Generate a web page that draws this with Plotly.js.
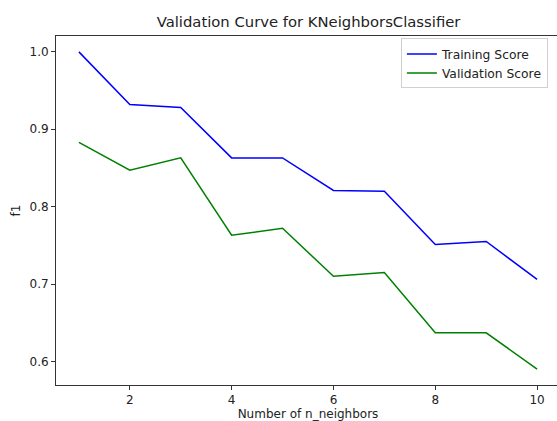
<!DOCTYPE html>
<html>
<head>
<meta charset="utf-8">
<script src="https://cdn.plot.ly/plotly-3.0.1.min.js"></script>
<style>
html,body{margin:0;padding:0;overflow:hidden;background:#fff;}
#chart{width:561px;height:421px;}
</style>
</head>
<body>
<div id="chart"></div>
<script>
const neighbors = [1, 2, 3, 4, 5, 6, 7, 8, 9, 10];
const trainingScore = [1.000, 0.932, 0.928, 0.863, 0.863, 0.821, 0.820, 0.751, 0.755, 0.706];
const validationScore = [0.883, 0.847, 0.863, 0.763, 0.772, 0.710, 0.715, 0.637, 0.637, 0.590];
const xTicks = [2, 4, 6, 8, 10];
const yTicks = [0.6, 0.7, 0.8, 0.9, 1.0];
const yTickLabels = ['0.6', '0.7', '0.8', '0.9', '1.0'];

const font = 'DejaVu Sans, sans-serif';
const traces = [
  {x: neighbors, y: trainingScore, type: 'scatter', mode: 'lines', name: 'Training Score',
   line: {color: '#0000ff', width: 1.5}},
  {x: neighbors, y: validationScore, type: 'scatter', mode: 'lines', name: 'Validation Score',
   line: {color: '#008000', width: 1.5}}
];
const layout = {
  width: 561, height: 421,
  margin: {l: 56, r: 1, t: 36, b: 36},
  paper_bgcolor: '#fff', plot_bgcolor: '#fff',
  font: {family: font, color: '#222', size: 12},
  title: {text: 'Validation Curve for KNeighborsClassifier', font: {family: font, size: 14.8, color: '#222'},
          x: 0.55, xanchor: 'center', y: 0.948, yanchor: 'middle'},
  xaxis: {range: [0.55, 10.45], tickvals: xTicks, ticks: 'outside', ticklen: 4, tickwidth: 1, tickcolor: '#333',
          showgrid: false, zeroline: false, showline: true, linecolor: '#333', linewidth: 1, mirror: true,
          tickfont: {family: font, size: 12, color: '#222'},
          title: {text: 'Number of n_neighbors', font: {family: font, size: 12, color: '#222'}, standoff: 6}},
  yaxis: {range: [0.5695, 1.0205], tickvals: yTicks, ticktext: yTickLabels, ticks: 'outside', ticklen: 4, tickwidth: 1, tickcolor: '#333',
          showgrid: false, zeroline: false, showline: true, linecolor: '#333', linewidth: 1, mirror: true,
          tickfont: {family: font, size: 12, color: '#222'},
          title: {text: 'f1', font: {family: font, size: 12, color: '#222'}, standoff: 6}},
  showlegend: true,
  legend: {x: 0.976, xanchor: 'right', y: 0.993, yanchor: 'top', bgcolor: 'rgba(255,255,255,0.8)',
           bordercolor: '#d0d0d0', borderwidth: 1, font: {family: font, size: 12.3, color: '#222'},
           tracegroupgap: 0, itemwidth: 30}
};
Plotly.newPlot('chart', traces, layout, {displayModeBar: false, staticPlot: true});
</script>
</body>
</html>
